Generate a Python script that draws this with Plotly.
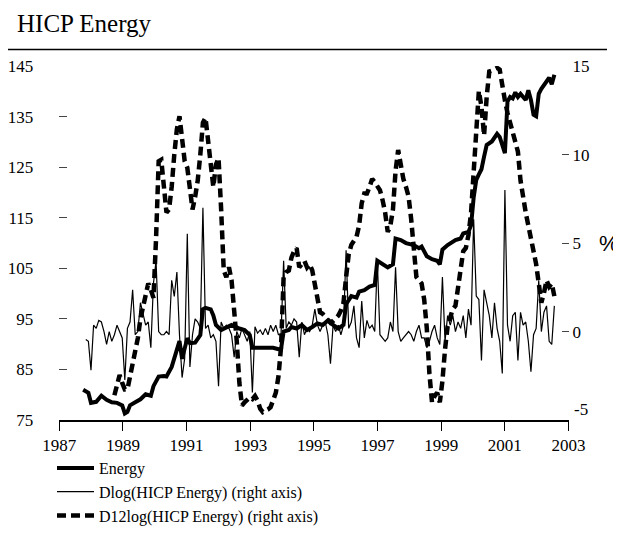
import numpy as np
import plotly.graph_objects as go

# ---- data --------------------------------------------------------------
# observation index (monthly observations, first one ~Oct 1987)
START_YEAR = 1987.75
OBS_STEP = 0.0818  # spacing of observations in years as laid out on the chart

energy_obs = [0, 2, 3, 5, 7, 9, 11, 13, 15, 16, 17, 18, 20, 22, 24, 26, 27, 29, 31, 32,
              34, 36, 37, 38, 40, 41, 43, 45, 46, 47, 49, 50, 51, 53, 55, 57, 60, 62, 64, 65,
              66, 70, 73, 75, 76, 77, 79, 80, 82, 84, 86, 88, 90, 92, 94, 96, 98, 100, 101, 103,
              105, 106, 108, 110, 112, 113, 115, 117, 119, 120, 122, 124, 127, 129, 130, 132, 134, 136, 137, 138,
              140, 141, 143, 145, 146, 148, 149, 150, 151, 152, 153, 154, 155, 157, 158, 159, 160, 161, 162, 163,
              164, 165, 166, 167, 168, 170, 171, 172, 173, 174, 175, 176, 178, 179, 180, 181]
energy = [81.0, 80.4, 78.4, 78.6, 79.8, 79.0, 78.5, 78.4, 77.9, 76.3, 76.6, 77.9, 78.5, 79.1, 80.1, 79.8, 81.7, 83.6, 83.7, 83.6,
          85.5, 89.0, 90.6, 87.1, 91.2, 90.2, 90.3, 91.8, 96.9, 97.2, 96.9, 95.7, 93.8, 92.8, 93.4, 93.8, 93.1, 92.8, 91.8, 89.3,
          89.3, 89.4, 89.3, 89.0, 89.0, 92.5, 92.8, 93.4, 93.1, 93.8, 92.8, 93.4, 94.1, 93.8, 94.7, 93.8, 93.1, 93.8, 97.9, 99.5,
          99.2, 100.4, 100.7, 101.4, 101.7, 106.5, 105.8, 105.2, 105.8, 110.9, 110.6, 110.0, 109.6, 109.0, 109.3, 107.4, 106.8, 106.5, 105.8, 108.7,
          109.6, 110.0, 110.6, 110.9, 111.9, 112.2, 113.5, 119.0, 122.5, 123.6, 124.6, 127.1, 129.4, 130.1, 130.9, 131.6, 131.0, 129.5, 127.8, 138.0,
          138.9, 138.6, 139.8, 138.9, 139.5, 138.3, 140.2, 138.3, 135.4, 135.1, 139.5, 140.5, 142.1, 142.7, 141.4, 143.3]

dlog_first_obs = 1
dlog = [-0.45, -0.55, -2.18, 0.36, 0.18, 0.63, 0.54, 0.0, -0.73, 0.0,
        -0.55, -0.18, 0.36, 0.0, -0.36, -2.73, 0.18, 0.54, 2.36, -0.18,
        0.0, 1.63, 0.9, 0.36, 0.54, -0.91, 2.72, 4.0, 0.0, -0.18,
        -0.18, 0.0, -0.18, 2.9, 1.99, 3.36, -0.2, -2.6, -1.5, 5.53,
        -2.0, -0.18, 0.72, 0.54, 0.18, 7.0, 0.18, 0.36, -0.36, -0.18,
        -0.55, -3.09, 0.54, 0.18, 0.36, 0.18, -0.18, -1.45, 0.0, -0.36,
        0.18, -0.18, -0.55, 0.0, -3.45, 0.27, -0.09, 0.09, -0.18, 0.18,
        -0.18, 0.36, 0.0, 0.36, -0.18, -0.18, 4.0, 0.18, 0.54, 0.36,
        0.72, 0.54, -1.45, 0.54, -0.18, 0.18, 0.0, 0.36, 1.27, 0.36,
        0.0, 0.36, 0.54, -0.18, -1.82, 0.36, 0.0, 0.36, -0.18, 0.36,
        4.6, 0.18, 0.54, 1.45, -0.36, -0.91, 1.72, -0.36, 0.63, 0.18,
        0.36, 0.0, 4.0, -0.18, -0.36, -0.55, -0.36, 0.54, 0.0, 3.63,
        0.0, -0.55, -0.36, -0.18, 0.0, -0.18, -0.55, 0.0, 0.36, -0.36,
        -0.36, -0.91, -0.55, 0.0, 0.36, -0.36, -0.73, 3.08, -0.55, 0.9,
        0.36, 0.9, 0.0, 0.54, 0.18, 0.9, -0.36, 1.27, 0.36, 6.35,
        2.0, 1.81, -1.64, 2.36, 1.63, 0.9, -0.36, 1.63, 0.18, -0.55,
        -2.37, 8.0, 0.36, -0.55, 0.9, 1.09, -1.64, 1.09, 0.36, 0.54,
        -0.55, -2.27, -0.18, 0.18, 2.9, 0.0, 1.09, 1.45, -0.55, -0.73,
        1.45]

d12_first_obs = 12
d12 = [-3.6, -3.0, -2.46, -2.9, -3.27, -3.27, -2.6, -2.0, -1.2, -0.37,
       0.72, 1.5, 2.27, 2.72, 2.36, 1.9, 5.26, 9.62, 9.71, 8.17,
       6.72, 6.9, 8.17, 10.0, 11.44, 12.17, 11.08, 9.62, 9.26, 8.0,
       6.9, 7.6, 8.53, 10.0, 11.8, 12.08, 10.7, 9.44, 8.17, 9.44,
       9.8, 6.9, 3.45, 3.08, 3.63, 2.9, 1.45, -0.55, -2.9, -4.18,
       -4.0, -3.9, -3.73, -3.82, -3.64, -3.9, -4.36, -4.55, -4.5, -4.4,
       -4.27, -3.9, -3.46, -2.55, -0.9, 3.08, 3.36, 3.45, 4.17, 4.54,
       4.72, 3.63, 3.81, 3.99, 3.63, 3.81, 3.45, 2.7, 1.81, 1.09,
       1.0, 0.8, 0.6, 0.5, 0.6, 0.72, 0.9, 1.18, 1.63, 3.08,
       4.36, 4.9, 5.08, 5.35, 5.99, 7.26, 7.8, 7.8, 8.17, 8.62,
       8.44, 8.17, 7.99, 7.44, 6.72, 5.63, 5.99, 6.9, 9.08, 10.26,
       9.26, 8.62, 8.17, 7.63, 6.35, 4.36, 3.08, 2.9, 2.72, 1.81,
       0.18, -2.37, -4.0, -3.64, -3.46, -4.0, -2.8, -1.0, 0.3, 0.8,
       1.27, 1.45, 2.54, 3.81, 4.54, 4.72, 5.45, 6.72, 8.9, 11.44,
       13.6, 12.7, 11.08, 13.26, 14.7, 14.75, 14.8, 14.9, 14.8, 13.8,
       13.07, 12.35, 11.8, 11.26, 10.9, 10.17, 8.53, 7.44, 6.72, 5.99,
       5.08, 4.54, 3.81, 2.72, 1.63, 2.18, 2.9, 2.54, 2.72, 2.0]

x_ticks = list(range(1987, 2004, 2))
left_ticks = [75, 85, 95, 105, 115, 125, 135, 145]
right_ticks = [-5, 0, 5, 10, 15]
right_ticktext = ["", "0", "5", "10", "15"]   # the -5 label sits raised, drawn below
right_bottom_label = "-5"

# ---- build -------------------------------------------------------------
def obs_to_year(obs):
    return START_YEAR + np.asarray(obs, dtype=float) * OBS_STEP

x_energy = obs_to_year(energy_obs)
x_dlog = obs_to_year(np.arange(dlog_first_obs, dlog_first_obs + len(dlog)))
x_d12 = obs_to_year(np.arange(d12_first_obs, d12_first_obs + len(d12)))

# page body adds an 8px margin; the figure fills the rest of the window
OFF = 8
W, H = 621 - OFF, 533 - OFF
SERIF = "Liberation Serif, Times New Roman, serif"


def px(x):
    return (x - OFF) / W


def py(y):
    return 1 - (y - OFF) / H


fig = go.Figure()
fig.add_trace(go.Scatter(x=x_energy, y=energy, name="Energy", mode="lines",
                         line=dict(color="black", width=4), yaxis="y"))
fig.add_trace(go.Scatter(x=x_dlog, y=dlog, name="Dlog(HICP Energy) (right axis)", mode="lines",
                         line=dict(color="black", width=1.2), yaxis="y2"))
fig.add_trace(go.Scatter(x=x_d12, y=d12, name="D12log(HICP Energy) (right axis)", mode="lines",
                         line=dict(color="black", width=4.5, dash="9px,5px"), yaxis="y2"))

x0, x1 = px(59.3), px(568.5)
y0, y1 = py(435.5), py(68.3)

fig.update_layout(
    width=W, height=H,
    margin=dict(l=0, r=0, t=0, b=0),
    paper_bgcolor="white", plot_bgcolor="white",
    font=dict(family=SERIF, color="black", size=16),
    xaxis=dict(domain=[x0, x1], range=[1987, 2003], tickvals=x_ticks,
               ticks="outside", ticklen=9, tickwidth=1.2, tickcolor="black",
               showline=True, linecolor="black", linewidth=1.5,
               showgrid=False, zeroline=False, automargin=False,
               tickfont=dict(family=SERIF, size=17, color="black")),
    yaxis=dict(domain=[y0, y1], range=[75, 145], tickvals=left_ticks,
               ticks="inside", ticklen=8, tickwidth=1.2, tickcolor="#444",
               showline=False, showgrid=False, zeroline=False, automargin=False,
               ticklabelstandoff=25,
               tickfont=dict(family=SERIF, size=17, color="black")),
    yaxis2=dict(domain=[y0, y1], range=[-5, 15], tickvals=right_ticks, ticktext=right_ticktext,
                overlaying="y", side="right", anchor="x",
                ticks="inside", ticklen=7, tickwidth=1.2, tickcolor="#444",
                showline=False, showgrid=False, zeroline=False, automargin=False,
                ticklabelstandoff=3,
                tickfont=dict(family=SERIF, size=17, color="black")),
    legend=dict(x=px(52), y=py(468), xanchor="left", yanchor="top",
                bgcolor="rgba(0,0,0,0)", font=dict(family=SERIF, size=16, color="black"),
                itemwidth=37, tracegroupgap=0),
    showlegend=True,
)

fig.add_annotation(text="HICP Energy", x=px(15), y=py(8), xref="paper", yref="paper",
                   xanchor="left", yanchor="top", showarrow=False,
                   font=dict(family=SERIF, size=25, color="black"))
fig.add_annotation(text="%", x=px(609), y=py(252), xref="paper", yref="paper",
                   xanchor="center", yanchor="middle", showarrow=False,
                   font=dict(family="Liberation Sans, Arial, sans-serif", size=22, color="black"))
fig.add_annotation(text=right_bottom_label, x=px(572), y=right_ticks[0], xref="paper", yref="y2",
                   xanchor="left", yanchor="middle", yshift=11, showarrow=False,
                   font=dict(family=SERIF, size=17, color="black"))
fig.add_shape(type="line", xref="paper", yref="paper", x0=px(8), x1=px(607),
              y0=py(51), y1=py(51), line=dict(color="black", width=1.5))

fig.write_html("out.html")
